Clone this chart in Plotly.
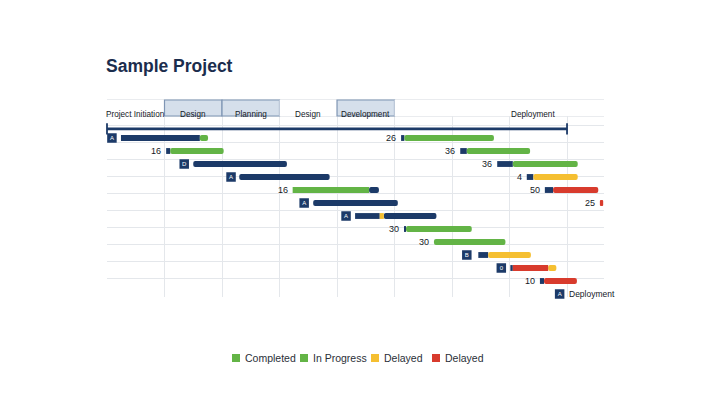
import plotly.graph_objects as go
import numpy as np

# ---------------- data ----------------
title = "Sample Project"

phase_names = ["Project Initiation", "Design", "Planning", "Design", "Development", "Deployment"]
phase_start = [0, 7, 14, 21, 28, 35]
phase_end = [7, 14, 21, 28, 35, 60.5]
phase_shaded = [False, True, True, False, True, False]
phase_label_x = [3.5, 10.5, 17.5, 24.5, 31.5, 51.9]

summary_start = 0
summary_end = 56
summary_row = 0.3

seg_row = [1, 1, 1, 1,
           2, 2, 2, 2,
           3, 3, 3,
           4, 4, 4,
           5, 5, 5, 5,
           6, 6,
           7, 7, 7,
           8, 8,
           9,
           10, 10,
           11, 11, 11,
           12, 12]
seg_start = [1.7, 11.3, 35.8, 36.2,
             7.2, 7.7, 43.0, 43.8,
             10.5, 47.5, 49.4,
             16.1, 51.1, 51.9,
             22.6, 31.9, 53.3, 54.3,
             25.1, 60.0,
             30.2, 33.2, 33.7,
             36.2, 36.4,
             39.8,
             45.2, 46.4,
             49.1, 49.4, 53.7,
             52.7, 53.2]
seg_end = [11.3, 12.3, 36.2, 47.1,
           7.7, 14.2, 43.8, 51.5,
           21.9, 49.4, 57.3,
           27.1, 51.9, 57.3,
           31.9, 33.1, 54.3, 59.8,
           35.4, 60.4,
           33.2, 33.7, 40.1,
           36.4, 44.4,
           48.5,
           46.4, 51.6,
           49.4, 53.7, 54.7,
           53.2, 57.2]
seg_status = ["task", "completed", "task", "in_progress",
              "task", "completed", "task", "in_progress",
              "task", "task", "in_progress",
              "task", "task", "delayed",
              "completed", "task", "task", "overdue",
              "task", "overdue",
              "task", "delayed", "task",
              "task", "completed",
              "in_progress",
              "task", "delayed",
              "task", "overdue", "delayed",
              "task", "overdue"]

lab_row = [1, 2, 2, 3, 4, 5, 5, 6, 8, 9, 12]
lab_x = [35.8, 7.2, 43.0, 47.5, 51.1, 22.6, 53.3, 60.0, 36.2, 39.8, 52.7]
lab_text = ["26", "16", "36", "36", "4", "16", "50", "25", "30", "30", "10"]

icon_row = [1, 3, 4, 6, 7, 10, 11, 13]
icon_x = [0.6, 9.4, 15.1, 24.0, 29.1, 43.8, 48.0, 55.1]
icon_text = ["A", "D", "A", "A", "A", "B", "0", "A"]
end_label = "Deployment"

legend_keys = ["completed", "in_progress", "delayed", "overdue"]
legend_labels = ["Completed", "In Progress", "Delayed", "Delayed"]

# ---------------- styles ----------------
NAVY = "#1c3a68"
colors = {"task": NAVY, "completed": "#63b446", "in_progress": "#63b446",
          "delayed": "#f5bf31", "overdue": "#d83b2d"}
FONT = "Liberation Sans, Arial, sans-serif"
TXT = "#15191f"

W, H = 710, 399
L, R, T, B = 107, 106, 100, 102
PW, PH = W - L - R, H - T - B


def px_x(px):
    return (px - L) / PW


def px_y(py):
    return (H - B - py) / PH


fig = go.Figure()

# bars (terminal segments get a rounded end)
seg_df = list(zip(seg_row, seg_start, seg_end, seg_status))
starts_by_row = {}
for r, s, e, st in seg_df:
    starts_by_row.setdefault(r, []).append(s)
groups = {}
for r, s, e, st in seg_df:
    terminal = not any(abs(x - e) < 1e-9 for x in starts_by_row[r])
    groups.setdefault((st, terminal), []).append((r, s, e))
for (st, terminal), items in groups.items():
    fig.add_trace(go.Bar(
        orientation="h",
        y=[i[0] for i in items],
        base=[i[1] for i in items],
        x=[i[2] - i[1] for i in items],
        width=0.45,
        marker=dict(color=colors[st], line=dict(width=0),
                    cornerradius=3 if terminal else 0),
        showlegend=False, hoverinfo="skip", name=st,
    ))

# summary line
fig.add_trace(go.Scatter(
    x=[summary_start, summary_end], y=[summary_row, summary_row],
    mode="lines+markers",
    line=dict(color=NAVY, width=2.8),
    marker=dict(symbol="line-ns", size=8, line=dict(color=NAVY, width=1.8)),
    cliponaxis=False, showlegend=False, hoverinfo="skip",
))

# icons
fig.add_trace(go.Scatter(
    x=icon_x, y=icon_row, mode="markers+text", text=icon_text,
    textposition="middle center",
    marker=dict(symbol="square", size=9.5, color=NAVY),
    textfont=dict(family=FONT, size=6, color="white"),
    cliponaxis=False, showlegend=False, hoverinfo="skip",
))

shapes = []
annotations = []

# number labels
for r, x, t in zip(lab_row, lab_x, lab_text):
    annotations.append(dict(x=x, y=r, xref="x", yref="y", text=t, xanchor="right", yanchor="middle",
                            xshift=-3, showarrow=False, font=dict(family=FONT, size=9, color=TXT)))

# header
hy0, hy1 = px_y(116), px_y(100)
for name, s, e, sh, lx in zip(phase_names, phase_start, phase_end, phase_shaded, phase_label_x):
    shapes.append(dict(type="rect", xref="x", yref="paper", x0=s, x1=e, y0=hy0, y1=hy1,
                       fillcolor="#d5dfeb" if sh else "white",
                       line=dict(color="#7f95b4" if sh else "rgba(0,0,0,0)", width=1.2),
                       layer="above"))
    annotations.append(dict(x=lx, y=(hy0 + hy1) / 2, xref="x", yref="paper", text=name,
                            showarrow=False, font=dict(family=FONT, size=8.2, color=TXT)))
for yy in (hy0, hy1):
    shapes.append(dict(type="line", xref="paper", yref="paper", x0=0, x1=1, y0=yy, y1=yy,
                       line=dict(color="#d6dae0", width=1.2), layer="below"))

# title
annotations.append(dict(x=px_x(104), y=px_y(66), xref="paper", yref="paper", text="<b>" + title + "</b>",
                        xanchor="left", yanchor="middle", showarrow=False,
                        font=dict(family=FONT, size=17.5, color="#1b2d4d")))

# end label
annotations.append(dict(x=icon_x[-1], y=icon_row[-1], xref="x", yref="y", text=end_label,
                        xanchor="left", yanchor="middle", xshift=7, showarrow=False,
                        font=dict(family=FONT, size=8.5, color=TXT)))

# legend (custom, compact)
leg_sq_px = [232, 300, 371, 432]
for key, lab, sx in zip(legend_keys, legend_labels, leg_sq_px):
    shapes.append(dict(type="rect", xref="paper", yref="paper",
                       x0=px_x(sx), x1=px_x(sx + 8), y0=px_y(362), y1=px_y(354),
                       fillcolor=colors[key], line=dict(width=0)))
    annotations.append(dict(x=px_x(sx + 10.5), y=px_y(358), xref="paper", yref="paper", text=lab,
                            xanchor="left", yanchor="middle", showarrow=False,
                            font=dict(family=FONT, size=10.5, color="#2a2f38")))

row_px0 = 125.0
row_pitch = 13.0
y_top = (T - row_px0) / row_pitch
y_bot = (H - B - row_px0) / row_pitch
grid_vals = list(np.arange(0, 10) * 17.0 / row_pitch)

fig.update_layout(
    width=W, height=H,
    margin=dict(l=L, r=R, t=T, b=B),
    paper_bgcolor="white", plot_bgcolor="white",
    barmode="overlay",
    showlegend=False,
    xaxis=dict(range=[0, 60.5], tickvals=[7, 14, 21, 28, 35, 42, 49, 56], showticklabels=False,
               showgrid=True, gridcolor="#e4e7eb", gridwidth=1, zeroline=False, showline=False,
               ticks=""),
    yaxis=dict(range=[y_bot, y_top], tickvals=grid_vals, showticklabels=False,
               showgrid=True, gridcolor="#e4e7eb", gridwidth=1, zeroline=False, showline=False,
               ticks=""),
    shapes=shapes,
    annotations=annotations,
)

fig.write_html("out.html", config={"displayModeBar": False},
               post_script="document.body.style.margin='0';document.body.style.padding='0';")
